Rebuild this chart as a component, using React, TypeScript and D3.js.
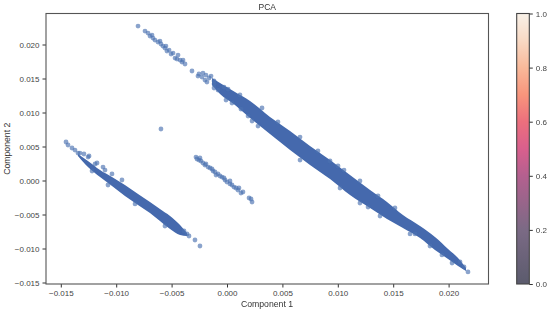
import React, { useEffect, useRef } from 'react';
import * as d3 from 'd3';

const width = 550, height = 312;
const margin = { top: 13.5, right: 61.5, bottom: 28, left: 46 };
const barLeft = 516.7, barWidth = 12.6;

const xTicks = [-0.015, -0.01, -0.005, 0, 0.005, 0.01, 0.015, 0.02];
const yTicks = [-0.015, -0.01, -0.005, 0, 0.005, 0.01, 0.015, 0.02];
const barTicks = [0, 0.2, 0.4, 0.6, 0.8, 1];

// dense part of the long cloud, read as its upper and lower edge
const mainX = [-0.00135, -0.00063, 0.00072, 0.00208, 0.00388, 0.00569, 0.00749, 0.0093, 0.0111, 0.01291, 0.01444, 0.01588, 0.01742, 0.01877, 0.01995, 0.02085, 0.02157];
const mainUpper = [0.01507, 0.01433, 0.01301, 0.01169, 0.00933, 0.00728, 0.00507, 0.00301, 0.00081, -0.0014, -0.00316, -0.00507, -0.00669, -0.00831, -0.01007, -0.01139, -0.01286];
const mainLower = [0.01404, 0.01272, 0.0111, 0.00919, 0.00684, 0.00448, 0.00228, 0.00022, -0.00213, -0.00404, -0.00566, -0.00698, -0.00845, -0.01022, -0.01154, -0.01257, -0.0133];

// dense part of the lower left cloud
const leftX = [-0.01345, -0.01255, -0.01146, -0.01038, -0.00921, -0.00803, -0.00695, -0.00605, -0.00514, -0.00424, -0.00361];
const leftUpper = [0.0039, 0.00287, 0.00154, 0.00051, -0.00066, -0.00198, -0.00316, -0.00419, -0.00522, -0.00654, -0.00772];
const leftLower = [0.0036, 0.00198, 0.00051, -0.00081, -0.00228, -0.0036, -0.00478, -0.00595, -0.00713, -0.00801, -0.00816];

// single points that can be told apart
const points: [number, number][] = [
  [-0.00803, 0.02271], [-0.0074, 0.02198], [-0.00713, 0.02168], [-0.00695, 0.02124], [-0.00668, 0.02095],
  [-0.0065, 0.02065], [-0.00623, 0.02036], [-0.00596, 0.02007], [-0.0056, 0.01948], [-0.00542, 0.01904],
  [-0.00523, 0.01918], [-0.00487, 0.01874], [-0.00442, 0.01845], [-0.00469, 0.01801], [-0.00424, 0.01771],
  [-0.00406, 0.01742], [-0.00379, 0.01713], [-0.00316, 0.0161], [-0.00262, 0.01536], [-0.00253, 0.01566],
  [-0.00217, 0.0158], [-0.0019, 0.01551], [-0.00162, 0.01507], [-0.00117, 0.01419], [-0.00081, 0.0133],
  [-0.00677, 0.02139], [-0.00605, 0.02051], [-0.00578, 0.01977], [-0.00551, 0.01977], [-0.00505, 0.0186],
  [-0.00451, 0.01786], [-0.00397, 0.01771], [-0.00226, 0.01521], [-0.00144, 0.01536], [-0.00181, 0.01448],
  // along the edge of the long cloud
  [0.00045, 0.01139], [0.00126, 0.01051], [0.00226, 0.00875], [0.0093, 0.00287], [0.01002, 0.00213],
  [0.01273, -0.0039], [0.01697, -0.00786], [0.02103, -0.01198], [0.02139, -0.01272], [0.02175, -0.01345],
  [-0.00199, 0.01477], [-0.00117, 0.01463], [-0.00027, 0.01374], [-0.00117, 0.0136], [0.00009, 0.01345],
  [-0.00009, 0.01183], [0.00117, 0.01257], [0.0019, 0.00948], [0.0028, 0.00801], [0.00316, 0.01066],
  [0.0046, 0.0086], [0.00659, 0.00639], [0.00821, 0.00434], [0.01056, 0.00154], [0.012, -0.00007],
  [0.01363, -0.00228], [0.01516, -0.00404], [0.00659, 0.00301], [0.0102, -0.0011], [0.012, -0.00331],
  [0.01381, -0.00522], [0.01652, -0.00786], [0.01832, -0.00963], [0.0194, -0.01095], [0.02031, -0.01213],
  // lower left cloud
  [-0.01453, 0.00566], [-0.01435, 0.00522], [-0.01399, 0.00478], [-0.01372, 0.00448], [-0.01345, 0.00404],
  [-0.01291, 0.0039], [-0.01245, 0.0036], [-0.01191, 0.00243], [-0.01119, 0.00198], [-0.00388, -0.00742],
  [-0.00361, -0.00786], [-0.00343, -0.00816], [-0.00289, -0.00875], [-0.00244, -0.00963],
  [-0.01327, 0.00404], [-0.01254, 0.00345], [-0.01173, 0.00257], [-0.01101, 0.00154], [-0.01038, 0.00096],
  [-0.00948, 0.00007], [-0.01218, 0.0014], [-0.01074, -0.00066], [-0.0083, -0.00345], [-0.0056, -0.00669],
  // short middle cloud
  [-0.0028, 0.00345], [-0.00271, 0.00316], [-0.00253, 0.00301], [-0.00235, 0.00287], [-0.00217, 0.00257],
  [-0.00199, 0.00228], [-0.00171, 0.00198], [-0.00153, 0.00184], [-0.00126, 0.0014], [-0.00108, 0.00125],
  [-0.00081, 0.00096], [-0.00063, 0.00066], [-0.00045, 0.00051], [-0.00018, 0.00007], [0, -0.00022],
  [0.00027, -0.00051], [0.00045, -0.00066], [0.00063, -0.00096], [0.00081, -0.0011], [0.00099, -0.0014],
  [0.00126, -0.00184], [0.00144, -0.00169], [0.00199, -0.00257], [0.00217, -0.00272], [0.00226, -0.00316],
  [-0.00244, 0.00331], [-0.0019, 0.00243], [-0.00135, 0.00169], [-0.00099, 0.00081], [-0.00027, 0.00037],
  [0.00027, -0.00007], [0.00108, -0.0011],
  // lone point
  [-0.00596, 0.00757],
];

const barStops = [0, 0.2, 0.4, 0.5, 0.6, 0.7, 0.8, 0.9, 1];
const barColors = ['#5b5b6d', '#7b6a85', '#b4608f', '#d95f8d', '#ec6f7d', '#f8957c', '#f9b99a', '#f8d9c4', '#f8f1e8'];

export default function App() {
  const svgRef = useRef<SVGSVGElement>(null);

  useEffect(() => {
    const svg = d3.select(svgRef.current);
    svg.selectAll('*').remove();

    const font = 'Liberation Sans, Arial, sans-serif';
    const innerW = width - margin.left - margin.right;
    const innerH = height - margin.top - margin.bottom;

    // 0 sits at 227, 0 at 180.5 on the picture
    const x = d3.scaleLinear().domain([(46 - 227) / 11080, (488.5 - 227) / 11080]).range([margin.left, width - margin.right]);
    const y = d3.scaleLinear().domain([(180.5 - 284) / 6800, (180.5 - 13.5) / 6800]).range([height - margin.bottom, margin.top]);

    const defs = svg.append('defs');
    const grad = defs.append('linearGradient').attr('id', 'bar').attr('x1', 0).attr('y1', 1).attr('x2', 0).attr('y2', 0);
    barStops.forEach((s, i) => grad.append('stop').attr('offset', s).attr('stop-color', barColors[i]));
    defs.append('filter').attr('id', 'soft').append('feGaussianBlur').attr('stdDeviation', 0.4);

    const marks = svg.append('g').attr('filter', 'url(#soft)');
    const color = '#4469ad';

    const band = d3.area<number>()
      .x(d => x(d))
      .curve(d3.curveMonotoneX);

    marks.append('path')
      .attr('d', band.y0((_, i) => y(mainLower[i])).y1((_, i) => y(mainUpper[i]))(mainX))
      .attr('fill', color);
    marks.append('path')
      .attr('d', band.y0((_, i) => y(leftLower[i])).y1((_, i) => y(leftUpper[i]))(leftX))
      .attr('fill', color);

    marks.selectAll('circle')
      .data(points)
      .enter()
      .append('circle')
      .attr('cx', d => x(d[0]))
      .attr('cy', d => y(d[1]))
      .attr('r', 2.4)
      .attr('fill', '#4c72b0')
      .attr('opacity', 0.65);

    const styleAxis = (g: any) => {
      g.selectAll('.domain').remove();
      g.selectAll('.tick line').attr('stroke', '#333').attr('stroke-width', 1);
      g.selectAll('.tick text').attr('fill', '#444').style('font-size', '8px').style('font-family', font);
    };
    const fmt = (d: any) => d3.format('.3f')(d).replace('-', '\u2212');

    svg.append('g')
      .attr('transform', `translate(0,${height - margin.bottom})`)
      .call(d3.axisBottom(x).tickValues(xTicks).tickFormat(fmt).tickSize(3.5).tickPadding(3))
      .call(styleAxis);
    svg.append('g')
      .attr('transform', `translate(${margin.left},0)`)
      .call(d3.axisLeft(y).tickValues(yTicks).tickFormat(fmt).tickSize(3.5).tickPadding(3))
      .call(styleAxis);

    svg.append('rect')
      .attr('x', margin.left).attr('y', margin.top)
      .attr('width', innerW).attr('height', innerH)
      .attr('fill', 'none').attr('stroke', '#555').attr('stroke-width', 1.1);

    svg.append('text').attr('x', (margin.left + width - margin.right) / 2).attr('y', 10)
      .attr('text-anchor', 'middle').attr('fill', '#333')
      .style('font-size', '8.5px').style('font-family', font).text('PCA');
    svg.append('text').attr('x', 267).attr('y', 307)
      .attr('text-anchor', 'middle').attr('fill', '#333')
      .style('font-size', '8.7px').style('font-family', font).text('Component 1');
    svg.append('text').attr('transform', `translate(10,${(margin.top + height - margin.bottom) / 2}) rotate(-90)`)
      .attr('text-anchor', 'middle').attr('fill', '#333')
      .style('font-size', '8.7px').style('font-family', font).text('Component 2');

    // colorbar
    const barY = d3.scaleLinear().domain([0, 1]).range([height - margin.bottom, margin.top]);
    svg.append('rect')
      .attr('x', barLeft).attr('y', margin.top)
      .attr('width', barWidth).attr('height', innerH)
      .attr('fill', 'url(#bar)').attr('stroke', '#444').attr('stroke-width', 1.1);
    svg.append('g')
      .attr('transform', `translate(${barLeft + barWidth},0)`)
      .call(d3.axisRight(barY).tickValues(barTicks).tickFormat(d3.format('.1f') as any).tickSize(3.5).tickPadding(3))
      .call(styleAxis);
  }, []);

  return <svg ref={svgRef} width={width} height={height} style={{ position: 'absolute', left: 0, top: 0, background: '#fff' }} />;
}
